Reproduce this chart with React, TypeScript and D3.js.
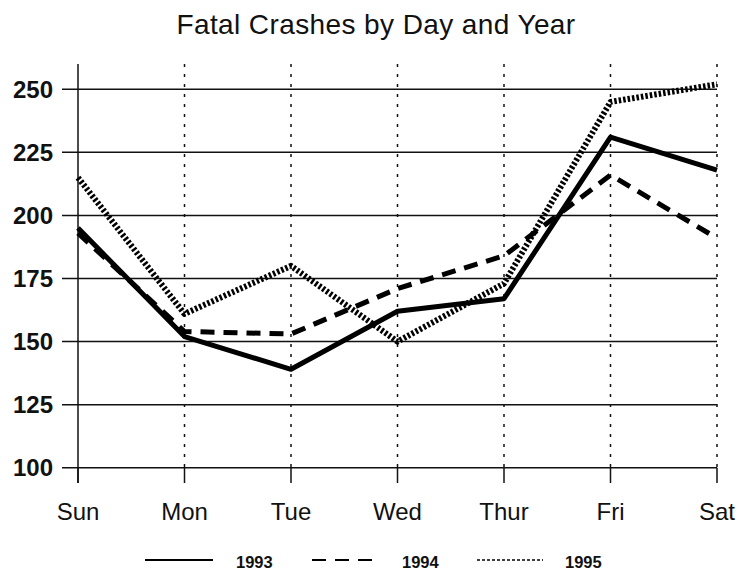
import React from "react";
import * as d3 from "d3";

const days = ["Sun", "Mon", "Tue", "Wed", "Thur", "Fri", "Sat"];
const y1993 = [195, 152, 139, 162, 167, 231, 218];
const y1994 = [193, 154, 153, 171, 184, 216, 191];
const y1995 = [215, 161, 180, 150, 173, 245, 252];
const yTicks = [100, 125, 150, 175, 200, 225, 250];
const seriesNames = ["1993", "1994", "1995"];

export default function App() {
  const W = 738, H = 571;
  const x = d3.scalePoint<string>().domain(days).range([78, 717]);
  const y = d3.scaleLinear().domain([100, 250]).range([467.7, 89.3]);
  const line = d3.line<number>().x((_, i) => x(days[i])!).y((d) => y(d));
  const styles = [
    { dash: "none", w: 5 },
    { dash: "14 9", w: 5 },
    { dash: "2.5 2", w: 6 },
  ];
  const data = [y1993, y1994, y1995];
  const font = "Arial, 'Liberation Sans', sans-serif";
  const legend = [
    { x1: 145, x2: 213, tx: 236, dash: "none", w: 2 },
    { x1: 312, x2: 372, tx: 402, dash: "14 9", w: 2 },
    { x1: 477, x2: 543, tx: 565, dash: "3 2", w: 1.5 },
  ];
  return (
    <svg width={W} height={H} style={{ position: "absolute", left: 0, top: 0, background: "#fff" }}>
      <rect width={W} height={H} fill="#fff" />
      <text x={376} y={34} textAnchor="middle" fontFamily={font} fontSize={28} letterSpacing={0.4} fill="#111">
        Fatal Crashes by Day and Year
      </text>
      {yTicks.map((t) => (
        <g key={t}>
          <line x1={62} x2={717} y1={y(t)} y2={y(t)} stroke="#111" strokeWidth={1.5} />
          <text x={53} y={y(t) + 8.5} textAnchor="end" fontFamily={font} fontSize={24} fontWeight="bold" fill="#111">
            {t}
          </text>
        </g>
      ))}
      <line x1={78} x2={78} y1={64} y2={483} stroke="#111" strokeWidth={1.5} />
      {days.map((d, i) => (
        <g key={d}>
          {i > 0 && (
            <line x1={x(d)} x2={x(d)} y1={64} y2={y(100)} stroke="#111" strokeWidth={1.5} strokeDasharray="3 7" />
          )}
          <line x1={x(d)} x2={x(d)} y1={y(100)} y2={483} stroke="#111" strokeWidth={1.5} />
          <text x={x(d)} y={520} textAnchor="middle" fontFamily={font} fontSize={24} fill="#111">
            {d}
          </text>
        </g>
      ))}
      {data.map((s, i) => (
        <path
          key={i}
          d={line(s)!}
          fill="none"
          stroke="#000"
          strokeWidth={styles[i].w}
          strokeDasharray={styles[i].dash}
          strokeLinejoin="round"
        />
      ))}
      {legend.map((l, i) => (
        <g key={i}>
          <line x1={l.x1} x2={l.x2} y1={560} y2={560} stroke="#000" strokeWidth={l.w} strokeDasharray={l.dash} />
          <text x={l.tx} y={568} fontFamily={font} fontSize={16.5} fontWeight="bold" fill="#111">
            {seriesNames[i]}
          </text>
        </g>
      ))}
    </svg>
  );
}
